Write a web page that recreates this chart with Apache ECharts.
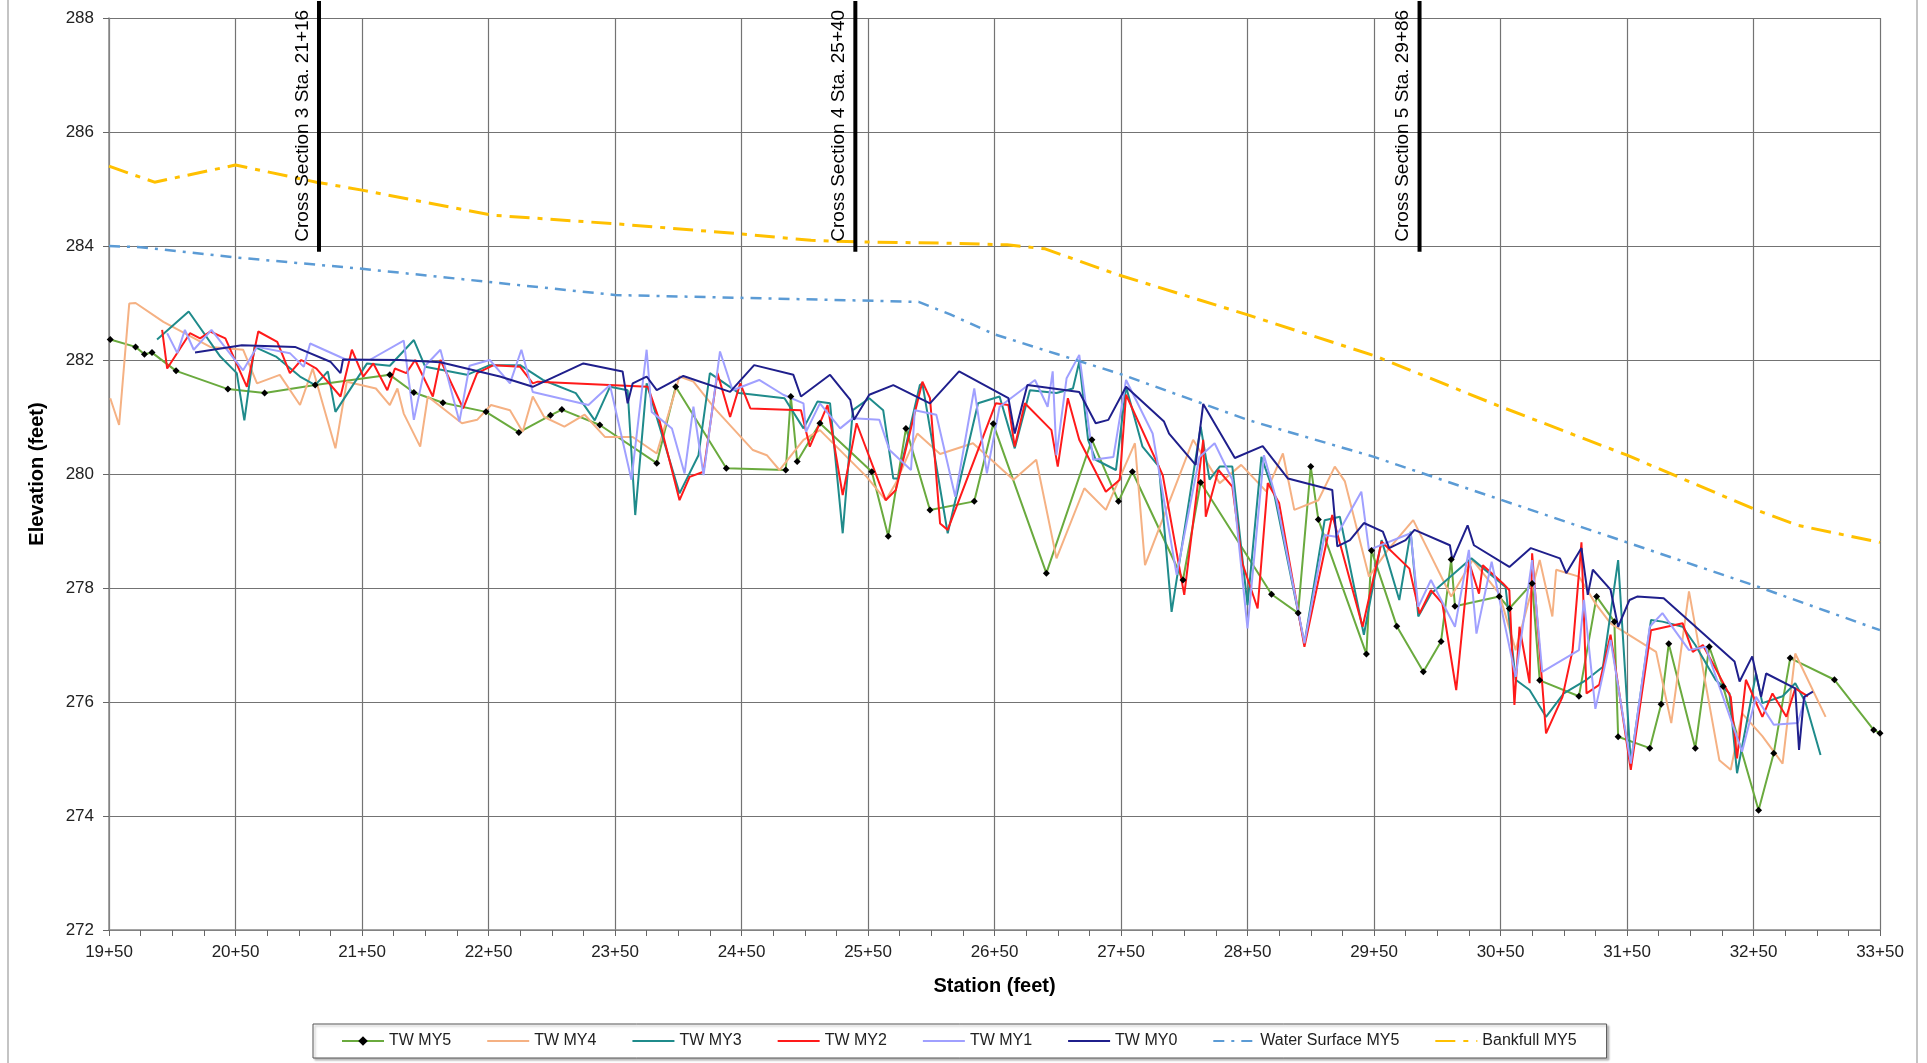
<!DOCTYPE html>
<html>
<head>
<meta charset="utf-8">
<script src="https://cdn.jsdelivr.net/npm/echarts@6/dist/echarts.min.js"></script>
<style>
html, body { margin: 0; padding: 0; background: #fff; }
#chart { width: 1927px; height: 1063px; }
</style>
</head>
<body>
<div id="chart"></div>
<script>
// Thalweg profiles, station (ft) vs elevation (ft)
const my5 = [[1951,282.36],[1971,282.23],[1978,282.1],[1984,282.13],[2003,281.81],[2044,281.49],[2073,281.42],[2113,281.56],[2172,281.74],[2191,281.43],[2214,281.25],[2248,281.09],[2274,280.73],[2299,281.03],[2308,281.13],[2338,280.86],[2383,280.19],[2398,281.53],[2438,280.1],[2485,280.07],[2489,281.36],[2494,280.22],[2512,280.89],[2553,280.04],[2566,278.91],[2580,280.8],[2599,279.37],[2634,279.52],[2649,280.88],[2691,278.26],[2727,280.6],[2748,279.52],[2759,280.04],[2799,278.14],[2813,279.85],[2869,277.89],[2890,277.56],[2900,280.13],[2906,279.2],[2944,276.84],[2948,278.66],[2968,277.33],[2989,276.53],[3003,277.06],[3011,278.5],[3014,277.68],[3049,277.85],[3057,277.64],[3075,278.08],[3081,276.38],[3112,276.1],[3126,277.85],[3140,277.41],[3143,275.39],[3168,275.19],[3177,275.96],[3183,277.02],[3204,275.19],[3215,276.97],[3226,276.27],[3254,274.1],[3266,275.1],[3279,276.77],[3314,276.39],[3345,275.51],[3350,275.45]];

const my4 = [[1951,281.33],[1958,280.86],[1966,282.99],[1971,283.0],[1993,282.67],[2030,282.23],[2056,282.18],[2067,281.59],[2085,281.74],[2101,281.21],[2111,281.85],[2129,280.45],[2138,281.62],[2161,281.5],[2172,281.21],[2178,281.5],[2183,281.06],[2196,280.48],[2202,281.36],[2229,280.89],[2241,280.95],[2252,281.21],[2267,281.12],[2277,280.74],[2285,281.36],[2294,281.0],[2310,280.83],[2326,281.04],[2342,280.65],[2364,280.65],[2383,280.36],[2401,281.71],[2412,281.62],[2430,281.12],[2459,280.42],[2470,280.33],[2480,280.07],[2499,280.6],[2512,280.77],[2549,279.95],[2564,279.54],[2572,279.84],[2589,280.71],[2607,280.35],[2633,280.54],[2665,279.9],[2683,280.25],[2699,278.52],[2721,279.75],[2738,279.37],[2761,280.54],[2769,278.4],[2807,280.6],[2828,279.84],[2845,280.16],[2865,279.69],[2878,280.36],[2887,279.37],[2906,279.54],[2919,280.13],[2927,279.87],[2946,278.2],[2961,278.67],[2981,279.19],[3011,277.85],[3028,278.49],[3049,277.9],[3062,276.91],[3081,278.49],[3091,277.5],[3094,278.32],[3112,278.2],[3125,277.73],[3137,277.38],[3173,276.88],[3185,275.63],[3199,277.94],[3223,274.98],[3232,274.81],[3241,275.8],[3257,275.4],[3273,274.92],[3283,276.85],[3307,275.74]];

const my3 = [[1988,282.36],[2013,282.85],[2038,282.06],[2051,281.77],[2057,280.94],[2065,282.23],[2082,282.06],[2101,281.71],[2113,281.56],[2123,281.8],[2129,281.09],[2154,281.94],[2172,281.9],[2191,282.35],[2200,281.88],[2233,281.74],[2251,281.91],[2275,281.91],[2293,281.65],[2319,281.42],[2334,280.94],[2346,281.53],[2360,281.47],[2366,279.28],[2375,281.59],[2401,279.66],[2416,280.33],[2425,281.77],[2448,281.42],[2484,281.33],[2499,280.8],[2510,281.27],[2520,281.24],[2530,278.96],[2538,281.12],[2551,281.33],[2562,281.12],[2570,279.92],[2574,279.92],[2591,281.56],[2593,281.59],[2613,278.96],[2637,281.24],[2654,281.36],[2666,280.45],[2678,281.47],[2699,281.42],[2712,281.5],[2717,281.97],[2724,280.6],[2730,280.25],[2746,280.07],[2754,281.53],[2767,280.48],[2780,280.13],[2790,277.58],[2813,280.83],[2820,279.9],[2828,280.13],[2838,280.13],[2850,277.7],[2861,280.3],[2871,279.66],[2895,277.03],[2911,279.19],[2923,279.25],[2942,277.18],[2956,278.84],[2970,277.79],[2979,278.99],[2985,277.5],[2995,277.9],[3027,278.52],[3054,278.02],[3062,276.39],[3073,276.21],[3086,275.74],[3100,276.15],[3118,276.39],[3131,276.62],[3143,278.49],[3153,274.93],[3169,277.44],[3178,277.41],[3194,277.32],[3204,277.0],[3220,276.39],[3231,276.15],[3237,274.75],[3252,276.5],[3257,275.98],[3273,276.1],[3283,276.33],[3291,276.0],[3303,275.07]];

const my2 = [[1992,282.53],[1996,281.85],[2014,282.47],[2022,282.38],[2030,282.5],[2042,282.38],[2059,281.53],[2068,282.5],[2083,282.32],[2093,281.77],[2102,282.0],[2114,281.85],[2133,281.36],[2142,282.18],[2151,281.71],[2159,281.94],[2170,281.47],[2176,281.85],[2185,281.77],[2192,282.0],[2206,281.36],[2212,282.0],[2230,281.15],[2241,281.77],[2254,281.91],[2275,281.88],[2285,281.59],[2289,281.62],[2376,281.53],[2385,280.95],[2401,279.54],[2409,279.95],[2420,280.04],[2431,281.77],[2441,281.0],[2449,281.59],[2457,281.15],[2497,281.12],[2504,280.48],[2518,281.21],[2530,279.63],[2541,280.89],[2564,279.54],[2572,279.72],[2593,281.62],[2599,281.33],[2607,279.13],[2613,279.02],[2651,281.24],[2661,281.21],[2666,280.48],[2674,281.24],[2695,280.77],[2700,280.13],[2708,281.33],[2717,280.6],[2738,279.69],[2749,279.9],[2754,281.39],[2783,279.98],[2800,277.88],[2815,280.6],[2817,279.25],[2827,280.07],[2838,279.78],[2846,278.43],[2858,277.64],[2866,279.84],[2875,279.49],[2895,276.97],[2917,279.28],[2941,277.32],[2956,278.81],[2978,278.34],[2986,277.55],[2995,277.96],[3004,277.73],[3015,276.21],[3025,278.46],[3033,277.9],[3036,278.4],[3052,278.08],[3057,277.96],[3061,275.95],[3065,277.32],[3073,276.33],[3075,278.61],[3086,275.45],[3099,276.09],[3107,276.91],[3114,278.8],[3118,276.15],[3128,276.3],[3137,277.18],[3153,274.81],[3169,277.26],[3194,277.38],[3202,276.88],[3210,277.0],[3232,276.09],[3237,275.01],[3244,276.39],[3257,275.74],[3265,276.15],[3276,275.74],[3283,276.24],[3293,276.1]];

const my1 = [[1996,282.47],[2004,282.12],[2010,282.53],[2017,282.18],[2031,282.53],[2056,281.82],[2067,282.23],[2093,282.12],[2104,281.88],[2109,282.29],[2138,282.0],[2156,282.0],[2183,282.34],[2191,280.95],[2200,281.9],[2212,282.18],[2227,280.92],[2235,281.9],[2251,282.0],[2267,281.59],[2276,282.18],[2285,281.44],[2329,281.21],[2346,281.56],[2363,279.9],[2375,282.18],[2379,281.09],[2395,280.8],[2405,280.01],[2412,281.18],[2420,279.98],[2433,282.15],[2443,281.47],[2464,281.65],[2483,281.39],[2499,281.24],[2501,280.74],[2512,281.24],[2528,280.8],[2538,280.98],[2559,280.95],[2567,280.42],[2584,280.07],[2587,281.12],[2604,281.04],[2619,279.6],[2634,281.5],[2644,280.01],[2654,281.18],[2682,281.65],[2692,281.18],[2696,281.8],[2699,280.33],[2707,281.68],[2717,282.09],[2728,280.25],[2744,280.3],[2754,281.65],[2775,280.71],[2794,278.23],[2812,280.3],[2824,280.54],[2838,279.9],[2850,277.29],[2863,280.33],[2873,279.54],[2895,277.03],[2911,278.93],[2920,278.9],[2940,279.69],[2946,278.67],[2979,278.96],[2985,277.67],[2995,278.14],[3014,277.32],[3025,278.67],[3031,277.2],[3043,278.46],[3062,276.44],[3075,278.49],[3083,276.53],[3112,276.91],[3116,277.79],[3125,275.88],[3137,277.09],[3153,274.92],[3168,277.32],[3178,277.56],[3199,276.91],[3212,276.97],[3241,275.13],[3252,276.09],[3266,275.6],[3285,275.63],[3291,276.09]];

const my0 = [[2018,282.13],[2055,282.26],[2097,282.23],[2125,281.97],[2133,281.77],[2135,282.01],[2180,282.0],[2212,281.96],[2259,281.71],[2285,281.53],[2325,281.94],[2356,281.8],[2360,281.24],[2364,281.59],[2375,281.71],[2383,281.47],[2404,281.72],[2441,281.44],[2460,281.91],[2491,281.74],[2497,281.36],[2520,281.74],[2536,281.3],[2539,280.95],[2551,281.39],[2570,281.56],[2599,281.24],[2622,281.8],[2661,281.33],[2666,280.71],[2676,281.56],[2717,281.44],[2730,280.89],[2740,280.95],[2754,281.53],[2784,280.92],[2788,280.71],[2809,280.16],[2815,281.23],[2840,280.28],[2862,280.49],[2882,279.92],[2917,279.72],[2921,278.73],[2931,278.84],[2942,279.14],[2957,278.99],[2962,278.7],[2975,278.84],[2982,279.02],[3010,278.75],[3012,278.49],[3024,279.1],[3029,278.75],[3057,278.37],[3074,278.7],[3097,278.52],[3102,278.26],[3114,278.7],[3119,277.88],[3123,278.32],[3137,277.97],[3143,277.32],[3152,277.79],[3158,277.85],[3179,277.82],[3235,276.71],[3239,276.36],[3249,276.8],[3256,276.09],[3260,276.5],[3283,276.24],[3286,275.16],[3290,276.09],[3297,276.18]];

const waterSurface = [[1950,284.0],[1975,283.98],[2050,283.8],[2150,283.6],[2250,283.37],[2350,283.14],[2450,283.09],[2590,283.02],[2615,282.8],[2650,282.45],[2700,282.1],[2750,281.75],[2850,280.95],[2950,280.3],[3050,279.55],[3150,278.8],[3250,278.05],[3350,277.26]];

const bankfull = [[1950,285.4],[1986,285.12],[2050,285.42],[2114,285.12],[2150,284.98],[2253,284.54],[2350,284.39],[2446,284.22],[2505,284.1],[2545,284.07],[2612,284.05],[2660,284.02],[2690,283.95],[2747,283.5],[2849,282.8],[2951,282.07],[3048,281.2],[3150,280.33],[3252,279.37],[3285,279.1],[3350,278.8]];

// cross section markers
const csStations = [2116, 2540, 2986];
const csLabels = ['Cross Section 3 Sta. 21+16', 'Cross Section 4 Sta. 25+40', 'Cross Section 5 Sta. 29+86'];
const csBottom = 283.9;
const csTop = 288.3;

const legendNames = ['TW MY5', 'TW MY4', 'TW MY3', 'TW MY2', 'TW MY1', 'TW MY0', 'Water Surface MY5', 'Bankfull MY5'];

const FONT = '"Liberation Sans", Arial, sans-serif';

const chart = echarts.init(document.getElementById('chart'));

function twSeries(name, data, color, extra) {
    return Object.assign({
        name: name,
        type: 'line',
        data: data,
        symbol: 'none',
        lineStyle: { color: color, width: 2 },
        itemStyle: { color: color },
        emphasis: { disabled: true },
    }, extra || {});
}

const csSeries = csStations.map((s) => ({
    type: 'line',
    data: [[s, csBottom], [s, csTop]],
    symbol: 'none',
    clip: false,
    lineStyle: { color: '#000', width: 4 },
    z: 5,
    silent: true,
}));

chart.setOption({
    animation: false,
    backgroundColor: '#fff',
    textStyle: { fontFamily: FONT },
    grid: { left: 109, right: 47, top: 18, bottom: 133, containLabel: false },
    xAxis: {
        type: 'value',
        min: 1950,
        max: 3350,
        interval: 100,
        name: 'Station (feet)',
        nameLocation: 'middle',
        nameGap: 46,
        nameTextStyle: { fontSize: 20, fontWeight: 'bold', color: '#000', fontFamily: FONT },
        axisLine: { lineStyle: { color: '#888', width: 1.5 } },
        axisTick: { show: true, length: 6, inside: false, lineStyle: { color: '#666' } },
        minorTick: { show: true, splitNumber: 4, length: 6, lineStyle: { color: '#666' } },
        splitLine: { show: true, lineStyle: { color: '#737373', width: 1.2 } },
        axisLabel: {
            fontSize: 17,
            color: '#222',
            margin: 14,
            fontFamily: FONT,
            formatter: (v) => Math.floor(v / 100) + '+' + String(v % 100).padStart(2, '0'),
        },
    },
    yAxis: {
        type: 'value',
        min: 272,
        max: 288,
        interval: 2,
        name: 'Elevation (feet)',
        nameLocation: 'middle',
        nameGap: 62,
        nameTextStyle: { fontSize: 20, fontWeight: 'bold', color: '#000', fontFamily: FONT },
        axisLine: { show: true, lineStyle: { color: '#888', width: 1.5 } },
        axisTick: { show: true, length: 6, lineStyle: { color: '#666' } },
        splitLine: { show: true, lineStyle: { color: '#737373', width: 1.2 } },
        axisLabel: { fontSize: 17, color: '#222', margin: 15, fontFamily: FONT },
    },
    legend: {
        // only TW MY5 keeps a visible marker in its key
        data: legendNames.map((n) => n === 'TW MY5' ? { name: n } : { name: n, itemStyle: { color: 'rgba(0,0,0,0)', borderWidth: 0 } }),
        left: 313,
        top: 1024,
        itemWidth: 42,
        itemHeight: 12,
        itemGap: 35,
        padding: [9, 30, 9, 28],
        borderColor: '#555',
        borderWidth: 1,
        shadowColor: 'rgba(0,0,0,0.25)',
        shadowOffsetX: 2,
        shadowOffsetY: 2,
        shadowBlur: 2,
        backgroundColor: '#fff',
        textStyle: { fontSize: 16, color: '#222', fontFamily: FONT },
        selectedMode: false,
    },
    graphic: [{
        id: 'frame',
        type: 'rect',
        shape: { x: 8, y: -4, width: 1909, height: 1072 },
        style: { fill: 'none', stroke: '#c4c4c4', lineWidth: 2 },
        silent: true,
    }],
    series: [
        twSeries('TW MY5', my5, '#6aaa3e', {
            symbol: 'diamond',
            symbolSize: 7,
            showSymbol: true,
            showAllSymbol: true,
            itemStyle: { color: '#000' },
        }),
        twSeries('TW MY4', my4, '#f5b183'),
        twSeries('TW MY3', my3, '#1f8b8b'),
        twSeries('TW MY2', my2, '#ff1a1a'),
        twSeries('TW MY1', my1, '#a0a0ff'),
        twSeries('TW MY0', my0, '#1f1f8c'),
        {
            name: 'Water Surface MY5',
            type: 'line',
            data: waterSurface,
            symbol: 'none',
            lineStyle: { color: '#5b9bd5', width: 2.5, type: [11, 7, 3, 7] },
            itemStyle: { color: '#5b9bd5' },
        },
        {
            name: 'Bankfull MY5',
            type: 'line',
            data: bankfull,
            symbol: 'none',
            lineStyle: { color: '#ffc000', width: 3, type: [20, 8, 5, 8] },
            itemStyle: { color: '#ffc000' },
        },
    ].concat(csSeries),
});

// rotated cross section labels, placed from data coordinates
chart.setOption({
    graphic: csStations.map((s, i) => {
        const p = chart.convertToPixel({ gridIndex: 0 }, [s, csBottom]);
        return {
            id: 'cs' + i,
            type: 'text',
            x: p[0] - 7,
            y: p[1] - 10,
            rotation: Math.PI / 2,
            z: 10,
            style: {
                text: csLabels[i],
                font: '19px ' + FONT,
                fill: '#000',
                align: 'left',
                verticalAlign: 'bottom',
            },
        };
    }),
});
</script>
</body>
</html>
